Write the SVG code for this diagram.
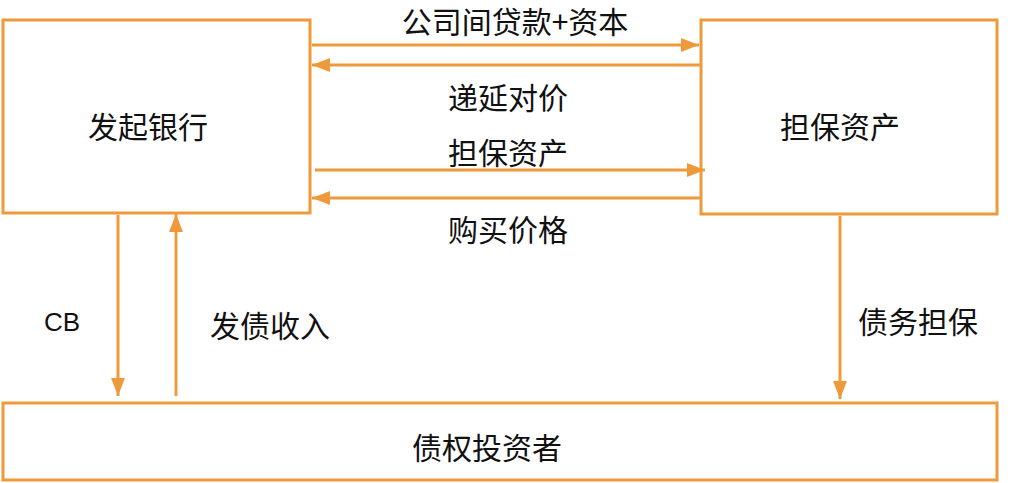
<svg xmlns="http://www.w3.org/2000/svg" width="1021" height="483" viewBox="0 0 1021 483">
<style>
.b{fill:#fff;stroke:#EE9A3A;stroke-width:3}
.c{stroke:#EE9A3A;stroke-width:3;fill:none}
text{font-family:"Noto Sans CJK SC","Liberation Sans",sans-serif;font-size:30px;fill:#111;text-anchor:middle;dominant-baseline:central}
</style>
<defs><marker id="a" viewBox="0 0 18 14" refX="18" refY="7" markerWidth="18" markerHeight="14" orient="auto" markerUnits="userSpaceOnUse"><path d="M0,0 L18,7 L0,14z" fill="#EE9A3A"/></marker></defs>
<g id="bank"><rect class="b" x="3" y="20" width="307" height="193"/><text x="148" y="125">发起银行</text></g>
<g id="assets"><rect class="b" x="701" y="20" width="296" height="194"/><text x="840" y="125">担保资产</text></g>
<g id="investors"><rect class="b" x="3" y="403" width="994" height="77"/><text x="487" y="446">债权投资者</text></g>
<g id="connectors">
<line class="c" x1="312" y1="45" x2="699" y2="45" marker-end="url(#a)"/>
<line class="c" x1="700" y1="65" x2="312" y2="65" marker-end="url(#a)"/>
<line class="c" x1="315" y1="170" x2="705" y2="170" marker-end="url(#a)"/>
<line class="c" x1="700" y1="198" x2="312" y2="198" marker-end="url(#a)"/>
<line class="c" x1="118" y1="215" x2="118" y2="396" marker-end="url(#a)"/>
<line class="c" x1="176" y1="396" x2="176" y2="214" marker-end="url(#a)"/>
<line class="c" x1="840" y1="216" x2="840" y2="399" marker-end="url(#a)"/>
<text x="515" y="20">公司间贷款+资本</text>
<text x="508" y="96">递延对价</text>
<text x="508" y="151">担保资产</text>
<text x="508" y="228">购买价格</text>
<text x="62" y="322" style="font-family:'Liberation Sans',sans-serif;font-size:26px">CB</text>
<text x="270" y="324">发债收入</text>
<text x="918" y="320">债务担保</text>
</g>
</svg>
